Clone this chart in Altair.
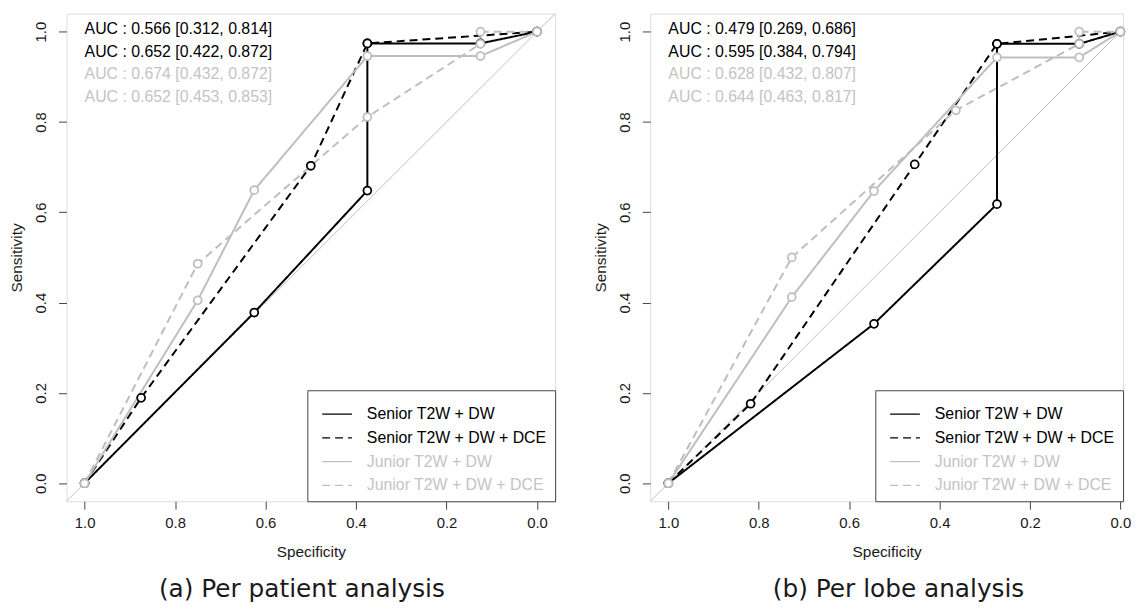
import altair as alt
import pandas as pd

FONT = "Liberation Sans"
SERIES = ["Senior T2W + DW", "Senior T2W + DW + DCE", "Junior T2W + DW", "Junior T2W + DW + DCE"]
COLORS = ["#000000", "#000000", "#bebebe", "#bebebe"]
DASHES = [[1, 0], [8, 5], [1, 0], [8, 5]]
GRAY_TEXT = "#c4c4c4"

# ---- (a) Per patient analysis ----
a_ss_spec = [1.0, 0.625, 0.375, 0.375, 0.125, 0.0]
a_ss_sens = [0.0, 0.378, 0.648, 0.974, 0.974, 1.0]
a_sd_spec = [1.0, 0.875, 0.5, 0.375, 0.0]
a_sd_sens = [0.0, 0.189, 0.703, 0.974, 1.0]
a_js_spec = [1.0, 0.75, 0.625, 0.375, 0.125, 0.0]
a_js_sens = [0.0, 0.405, 0.649, 0.946, 0.946, 1.0]
a_jd_spec = [1.0, 0.75, 0.375, 0.125, 0.125, 0.0]
a_jd_sens = [0.0, 0.486, 0.811, 0.973, 1.0, 1.0]
a_auc = ["AUC : 0.566 [0.312, 0.814]", "AUC : 0.652 [0.422, 0.872]",
         "AUC : 0.674 [0.432, 0.872]", "AUC : 0.652 [0.453, 0.853]"]

# ---- (b) Per lobe analysis ----
b_ss_spec = [1.0, 0.545, 0.273, 0.273, 0.091, 0.0]
b_ss_sens = [0.0, 0.353, 0.618, 0.973, 0.973, 1.0]
b_sd_spec = [1.0, 0.818, 0.455, 0.273, 0.0]
b_sd_sens = [0.0, 0.176, 0.706, 0.973, 1.0]
b_js_spec = [1.0, 0.727, 0.545, 0.273, 0.091, 0.0]
b_js_sens = [0.0, 0.412, 0.647, 0.943, 0.943, 1.0]
b_jd_spec = [1.0, 0.727, 0.364, 0.091, 0.091, 0.0]
b_jd_sens = [0.0, 0.5, 0.826, 0.973, 1.0, 1.0]
b_auc = ["AUC : 0.479 [0.269, 0.686]", "AUC : 0.595 [0.384, 0.794]",
         "AUC : 0.628 [0.432, 0.807]", "AUC : 0.644 [0.463, 0.817]"]

TICKS = [1.0, 0.8, 0.6, 0.4, 0.2, 0.0]
AUC_COLORS = ["#000000", "#000000", GRAY_TEXT, GRAY_TEXT]


def panel(curves, aucs, caption, xmin, width, cap_dx):
    rows = []
    for k, (sp, se) in enumerate(curves):
        for i, (x, y) in enumerate(zip(sp, se)):
            rows.append(dict(series=SERIES[k], k=k, i=i, spec=x, sens=y, pcol=COLORS[k]))
    df = pd.DataFrame(rows)
    xs = alt.Scale(domain=[1.04, xmin], nice=False, zero=False)
    ys = alt.Scale(domain=[-0.04, 1.04], nice=False, zero=False)
    xaxis = alt.Axis(values=TICKS, format=".1f", tickSize=8, tickColor="#444", domain=False,
                     grid=False, labelFontSize=15, labelFont=FONT, labelColor="#1a1a1a",
                     labelPadding=6, title="Specificity", titleFont=FONT, titleFontSize=15.5,
                     titleFontWeight="normal", titleColor="#1a1a1a", titlePadding=15,
                     labelFlush=False)
    yaxis = alt.Axis(values=TICKS, format=".1f", tickSize=8, tickColor="#444", domain=False,
                     grid=False, labelFontSize=15, labelFont=FONT, labelColor="#1a1a1a",
                     labelAngle=270, labelAlign="center", labelBaseline="bottom",
                     labelPadding=10, title="Sensitivity", titleFont=FONT, titleFontSize=15.5,
                     titleFontWeight="normal", titleColor="#1a1a1a", titlePadding=9,
                     labelFlush=False)

    diag_df = pd.DataFrame({"spec": [1.04, -0.04], "sens": [-0.04, 1.04]})
    diag = alt.Chart(diag_df).mark_line(color="#bebebe", strokeWidth=1, clip=True).encode(
        x=alt.X("spec:Q", scale=xs, axis=xaxis),
        y=alt.Y("sens:Q", scale=ys, axis=yaxis),
    )

    leg = alt.Legend(title=None, orient="bottom-right", offset=0, padding=8,
                     strokeColor="#444", fillColor="white", cornerRadius=0,
                     labelFont=FONT, labelFontSize=16, labelOffset=14, labelLimit=400,
                     symbolType="stroke", symbolSize=900, symbolStrokeWidth=1.2,
                     symbolOffset=6, rowPadding=-8,
                     labelColor={"expr": "indexof(datum.label, 'Junior') == 0 ? '%s' : '#000000'" % GRAY_TEXT})
    lines = alt.Chart(df).mark_line(strokeWidth=2, clip=True).encode(
        x="spec:Q", y="sens:Q",
        color=alt.Color("series:N", scale=alt.Scale(domain=SERIES, range=COLORS), legend=leg),
        strokeDash=alt.StrokeDash("series:N", scale=alt.Scale(domain=SERIES, range=DASHES), legend=leg),
        order="i:Q",
    )

    pts = alt.Chart(df).mark_point(shape="circle", filled=False, fill="white", fillOpacity=1,
                                   size=64, strokeWidth=1.8, opacity=1).encode(
        x="spec:Q", y="sens:Q",
        stroke=alt.Stroke("pcol:N", scale=None),
    )

    auc_df = pd.DataFrame({"label": aucs, "col": AUC_COLORS, "j": list(range(len(aucs)))})
    auc = alt.Chart(auc_df).transform_calculate(
        tx="1.0", ty="1.005 - 0.0497 * datum.j"
    ).mark_text(align="left", baseline="middle", fontSize=16, font=FONT).encode(
        x="tx:Q", y="ty:Q",
        color=alt.Color("col:N", scale=None),
        text="label:N",
    )

    return alt.layer(diag, lines, pts, auc).properties(
        width=width, height=492,
        title=alt.TitleParams(caption, orient="bottom", anchor="middle", frame="group",
                              fontSize=25, font="DejaVu Sans", fontWeight="normal",
                              color="#1a1a1a", offset=17, dx=cap_dx),
    )


left = panel([(a_ss_spec, a_ss_sens), (a_sd_spec, a_sd_sens), (a_js_spec, a_js_sens), (a_jd_spec, a_jd_sens)],
             a_auc, "(a) Per patient analysis", -0.04, 493, -9)
right = panel([(b_ss_spec, b_ss_sens), (b_sd_spec, b_sd_sens), (b_js_spec, b_js_sens), (b_jd_spec, b_jd_sens)],
              b_auc, "(b) Per lobe analysis", -0.006, 477, 12)

chart = alt.hconcat(left, right, spacing=37).resolve_scale(
    color="independent", strokeDash="independent"
).resolve_legend(
    color="independent", strokeDash="independent"
).properties(
    padding={"left": 1, "top": 2, "right": 0, "bottom": 0}
).configure_view(stroke="#444", strokeWidth=1).configure(background="white")

chart.save("out.html", embed_options={"renderer": "svg", "actions": False})
